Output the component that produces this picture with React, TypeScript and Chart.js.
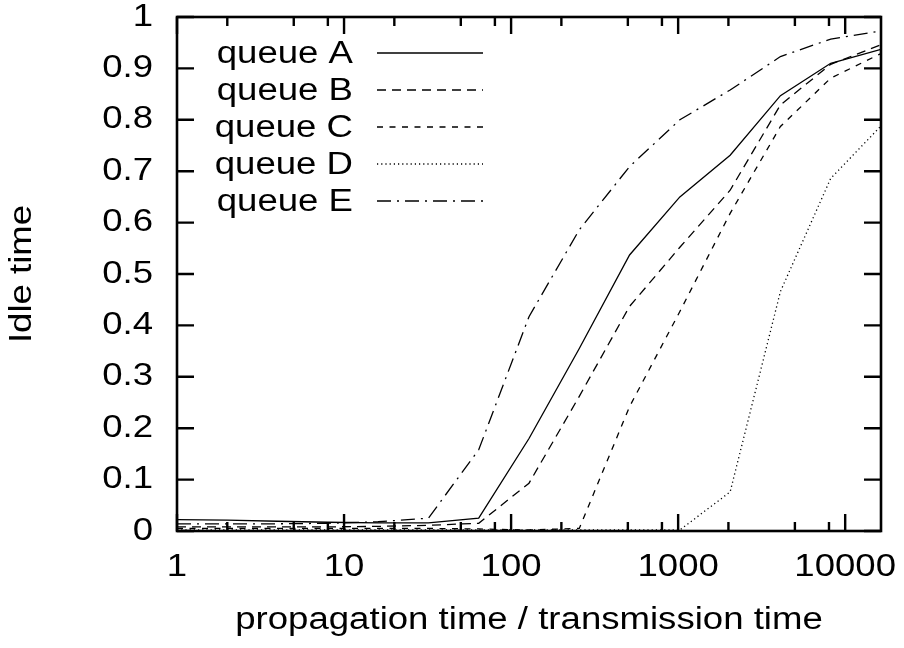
import { useEffect, useRef } from "react";
import { Chart, registerables } from "chart.js";

Chart.register(...registerables);

// ---- data ----
const xValues = [1, 2, 4, 8, 16, 32, 64, 128, 256, 512, 1024, 2048, 4096, 8192, 16384];
const queueA = [0.022, 0.021, 0.019, 0.017, 0.016, 0.016, 0.025, 0.18, 0.355, 0.537, 0.65, 0.731, 0.847, 0.91, 0.937];
const queueB = [0.008, 0.008, 0.008, 0.008, 0.009, 0.011, 0.015, 0.093, 0.262, 0.437, 0.552, 0.663, 0.829, 0.908, 0.946];
const queueC = [0.005, 0.005, 0.005, 0.005, 0.005, 0.005, 0.004, 0.002, 0.005, 0.242, 0.427, 0.618, 0.787, 0.881, 0.929];
const queueD = [0.002, 0.002, 0.002, 0.002, 0.002, 0.002, 0.002, 0.002, 0.002, 0.002, 0.002, 0.076, 0.466, 0.686, 0.788];
const queueE = [0.014, 0.014, 0.014, 0.015, 0.018, 0.025, 0.158, 0.417, 0.586, 0.709, 0.8, 0.858, 0.923, 0.957, 0.973];

const seriesLabels = ["queue A", "queue B", "queue C", "queue D", "queue E"];
const xMajorTicks = [1, 10, 100, 1000, 10000];
const xTickLabels = ["1", "10", "100", "1000", "10000"];
const xMinorTicks = [2, 5, 8, 20, 50, 80, 200, 500, 800, 2000, 5000, 8000];
const xMin = 1;
const xMax = 16384;
const yMin = 0;
const yMax = 1;
const yStep = 0.1;

const FONT = { family: "'Liberation Sans', Arial, sans-serif", size: 31 };
const TEXT_STRETCH = 1.18; // glyphs in the reference are horizontally expanded
const dashes: number[][] = [[], [9, 6], [6, 6.5], [1.2, 3], [14, 6, 2, 6]];

// widen every text run drawn on this chart's context around its anchor point
const stretchTextPlugin = {
  id: "stretchText",
  beforeDraw(chart: any) {
    const ctx = chart.ctx;
    if (ctx.__stretched) return;
    const orig = ctx.fillText.bind(ctx);
    ctx.fillText = (text: string, x: number, y: number) => {
      ctx.save();
      ctx.translate(x, y);
      ctx.scale(TEXT_STRETCH, 1);
      orig(text, 0, 0);
      ctx.restore();
    };
    ctx.__stretched = true;
  },
};

const framePlugin = {
  id: "frameTicks",
  afterDatasetsDraw(chart: any) {
    const { ctx, chartArea, scales } = chart;
    const { left, right, top, bottom } = chartArea;
    const xs = scales.x;
    const ys = scales.y;
    ctx.save();
    ctx.strokeStyle = "#000";
    ctx.lineWidth = 2.4;
    ctx.setLineDash([]);
    ctx.beginPath();
    xs.ticks.forEach((t: any) => {
      const px = xs.getPixelForValue(t.value);
      const len = t.major ? 17 : 9;
      ctx.moveTo(px, bottom);
      ctx.lineTo(px, bottom - len);
      ctx.moveTo(px, top);
      ctx.lineTo(px, top + len);
    });
    ys.ticks.forEach((t: any) => {
      const py = ys.getPixelForValue(t.value);
      ctx.moveTo(left, py);
      ctx.lineTo(left + 17, py);
      ctx.moveTo(right, py);
      ctx.lineTo(right - 17, py);
    });
    ctx.stroke();
    ctx.lineWidth = 2.6;
    ctx.strokeRect(left, top, right - left, bottom - top);
    ctx.restore();
  },
};

const legendPlugin = {
  id: "gpLegend",
  afterDraw(chart: any) {
    const { ctx, chartArea } = chart;
    ctx.save();
    ctx.font = `${FONT.size}px ${FONT.family}`;
    ctx.fillStyle = "#000";
    ctx.textAlign = "right";
    ctx.textBaseline = "middle";
    chart.data.datasets.forEach((ds: any, i: number) => {
      const y = chartArea.top + 36 + i * 37;
      ctx.fillText(ds.label, chartArea.left + 176, y + 1.5);
      ctx.beginPath();
      ctx.strokeStyle = ds.borderColor;
      ctx.lineWidth = ds.borderWidth;
      ctx.setLineDash(ds.borderDash || []);
      ctx.moveTo(chartArea.left + 200, y);
      ctx.lineTo(chartArea.left + 306, y);
      ctx.stroke();
    });
    ctx.restore();
  },
};

export default function App() {
  const ref = useRef<HTMLCanvasElement | null>(null);

  useEffect(() => {
    document.body.style.margin = "0";
    const canvas = ref.current;
    if (!canvas) return;
    const allSeries = [queueA, queueB, queueC, queueD, queueE];
    const chart = new Chart(canvas, {
      type: "line",
      data: {
        datasets: allSeries.map((vals, i) => ({
          label: seriesLabels[i],
          data: xValues.map((x, j) => ({ x, y: vals[j] })),
          borderColor: "#000",
          borderWidth: 1.3,
          borderDash: dashes[i],
          pointRadius: 0,
          tension: 0,
          fill: false,
        })),
      },
      options: {
        animation: false,
        responsive: false,
        events: [],
        layout: { padding: { top: 17, right: 23, left: 0, bottom: 0 } },
        plugins: {
          legend: { display: false },
          tooltip: { enabled: false },
        },
        scales: {
          x: {
            type: "logarithmic",
            min: xMin,
            max: xMax,
            afterBuildTicks: (s: any) => {
              const vals = [...xMajorTicks, ...xMinorTicks]
                .filter((v) => v >= xMin && v <= xMax)
                .sort((a, b) => a - b);
              s.ticks = vals.map((v) => ({ value: v, major: xMajorTicks.includes(v) }));
            },
            afterFit: (s: any) => {
              s.height = 117;
              s.paddingLeft = 0;
              s.paddingRight = 0;
            },
            ticks: {
              autoSkip: false,
              maxRotation: 0,
              minRotation: 0,
              padding: 18,
              color: "#000",
              font: FONT,
              callback: (v: any) => {
                const idx = xMajorTicks.indexOf(Number(v));
                return idx >= 0 ? xTickLabels[idx] : "";
              },
            },
            grid: { display: false, drawTicks: false },
            border: { display: false },
            title: {
              display: true,
              text: "propagation time / transmission time",
              color: "#000",
              font: FONT,
              padding: { top: 0, bottom: 9 },
            },
          },
          y: {
            type: "linear",
            min: yMin,
            max: yMax,
            afterFit: (s: any) => {
              s.width = 177;
              s.paddingTop = 0;
              s.paddingBottom = 0;
            },
            ticks: {
              stepSize: yStep,
              padding: 24,
              color: "#000",
              font: FONT,
              callback: (v: any) => String(Math.round(Number(v) * 10) / 10),
            },
            grid: { display: false, drawTicks: false },
            border: { display: false },
            title: {
              display: true,
              text: "Idle time",
              color: "#000",
              font: FONT,
              padding: { top: 3.5, bottom: 0 },
            },
          },
        },
      },
      plugins: [stretchTextPlugin, framePlugin, legendPlugin],
    } as any);
    return () => chart.destroy();
  }, []);

  return (
    <div style={{ width: 904, height: 648, background: "#fff" }}>
      <canvas ref={ref} width={904} height={648} style={{ display: "block", width: 904, height: 648 }} />
    </div>
  );
}
